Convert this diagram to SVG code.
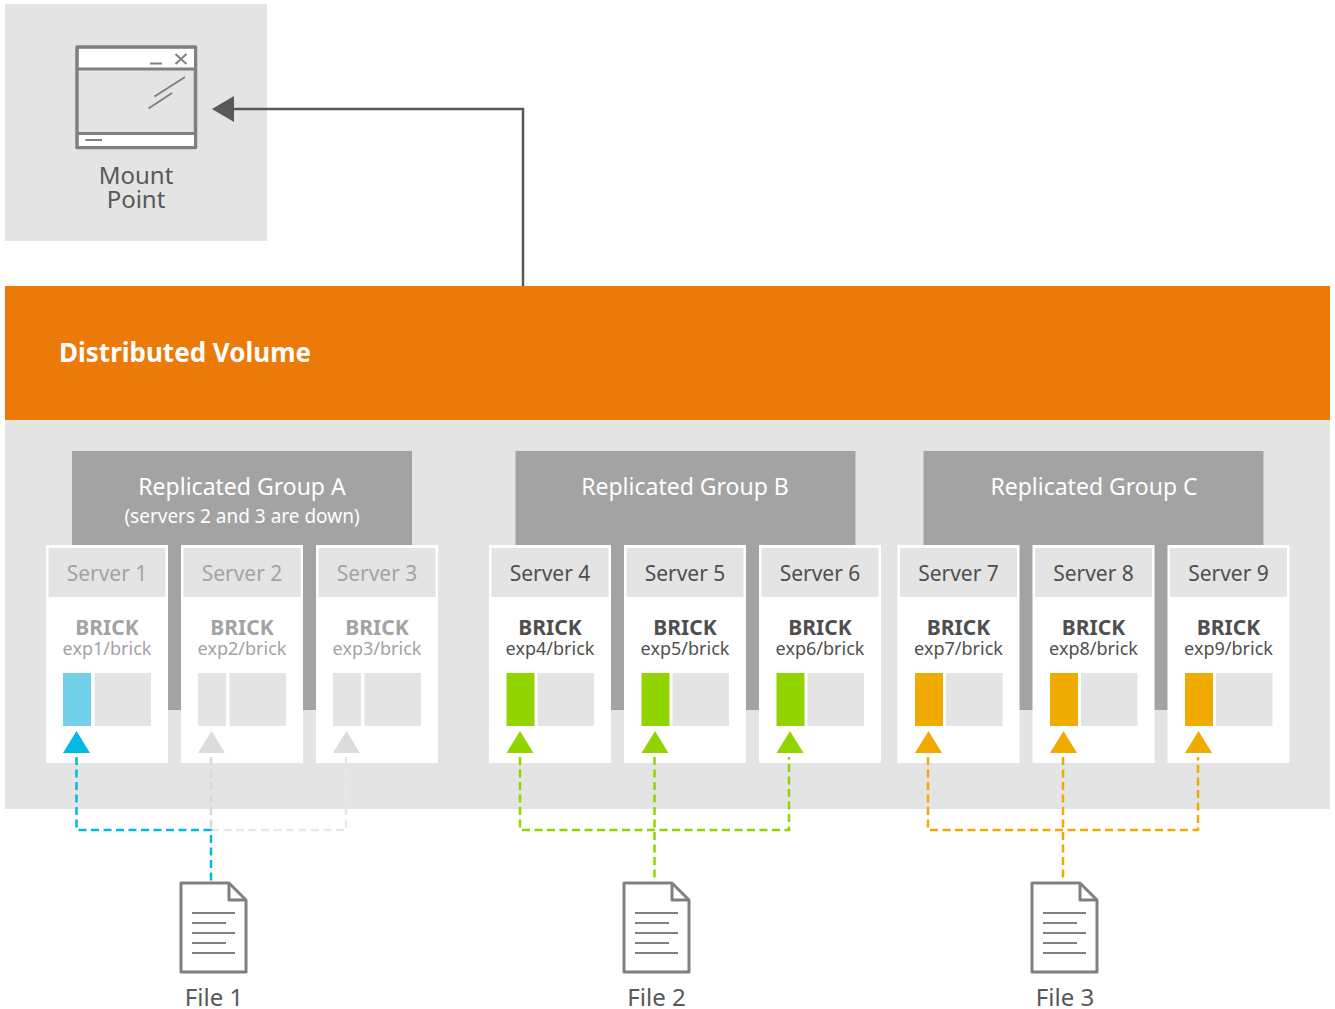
<svg xmlns="http://www.w3.org/2000/svg" xmlns:xlink="http://www.w3.org/1999/xlink" width="1335" height="1009" viewBox="0 0 1335 1009">
<style>
text{font-family:"Noto Sans","Liberation Sans",sans-serif;text-anchor:middle}
.bg{fill:#e4e4e4}
.grp{fill:#a3a3a3}
.gt{fill:#fff;font-size:23px}
.gs{fill:#fff;font-size:19px}
.srv{fill:#fff;stroke:#fff;stroke-width:0}
.hd{fill:#e4e4e4}
.st{fill:#4f4f4f;font-size:21px}
.bt{fill:#4f4f4f;font-size:21px;font-weight:700}
.bp{fill:#4f4f4f;font-size:18px}
.off .srv{fill:#f2f2f2}
.off .st,.off .bt,.off .bp{fill:#a3a3a3}
.dash{fill:none;stroke-width:2.5;stroke-dasharray:8 4.5}
.icon{fill:none;stroke:#808080;stroke-width:3;stroke-linejoin:round}
.thin{fill:none;stroke:#808080;stroke-width:2}
.lbl{fill:#585858;font-size:24px}
</style>
<defs>
<g id="doc">
<path d="M181 883H229L246 900V972H181Z" fill="#fff" stroke="#808080" stroke-width="3" stroke-linejoin="round"/>
<path d="M229 883V900H246" class="icon"/>
<path d="M192 913H235M192 923H226M192 933H235M192 943H226M192 953H235" class="thin"/>
</g>
<g id="srvbox">
<rect class="srv" width="122" height="218"/>
<rect class="hd" x="2.500" y="3" width="117" height="49"/>
<rect class="hd" x="48.500" y="128" width="56.500" height="53"/>
</g>
</defs>

<rect x="5" y="286" width="1325" height="134" fill="#ec7a08"/>
<rect class="bg" x="5" y="420" width="1325" height="389"/>

<g id="mount-point">
<rect class="bg" x="5" y="4" width="262" height="237"/>
<rect x="77" y="47" width="118.500" height="100.500" fill="#e4e4e4" stroke="#808080" stroke-width="3.500" stroke-linejoin="round"/>
<rect x="79" y="49" width="115" height="19" fill="#fff"/>
<rect x="79" y="134" width="115" height="12" fill="#fff"/>
<path d="M77 69H195M77 133.500H195" class="icon"/>
<path d="M150 63.500H162M175.500 54L186.500 64M186.500 54L175.500 64M85.500 140H102M154.500 96.500L185 77M148.500 108.500L172 93" class="thin"/>
<text class="lbl" x="136" y="184">Mount</text>
<text class="lbl" x="136" y="208">Point</text>
</g>

<g id="distributed-volume">
<text x="185" y="362" fill="#fff" font-size="26" font-weight="700">Distributed Volume</text>
</g>

<g id="group-a">
<rect class="grp" x="72" y="451" width="340" height="259"/>
<text class="gt" x="242" y="495">Replicated Group A</text>
<text class="gs" x="242" y="523">(servers 2 and 3 are down)</text>
</g>
<g id="group-b">
<rect class="grp" x="515.500" y="451" width="340" height="259"/>
<text class="gt" x="685" y="495">Replicated Group B</text>
</g>
<g id="group-c">
<rect class="grp" x="923.500" y="451" width="340" height="259"/>
<text class="gt" x="1094" y="495">Replicated Group C</text>
</g>

<g id="server-1" class="off" transform="translate(46 545)">
<use xlink:href="#srvbox"/><rect x="17" y="128" width="28" height="53" fill="#72d1e8"/>
<path d="M30.500 186L44 208H17Z" fill="#00b9e4"/>
<text class="st" x="61" y="36">Server 1</text><text class="bt" x="61" y="90">BRICK</text><text class="bp" x="61" y="110">exp1/brick</text>
</g>
<g id="server-2" class="off" transform="translate(181 545)">
<use xlink:href="#srvbox"/><rect x="17" y="128" width="28" height="53" fill="#e4e4e4"/>
<path d="M30.500 186L44 208H17Z" fill="#dcdcdc"/>
<text class="st" x="61" y="36">Server 2</text><text class="bt" x="61" y="90">BRICK</text><text class="bp" x="61" y="110">exp2/brick</text>
</g>
<g id="server-3" class="off" transform="translate(316 545)">
<use xlink:href="#srvbox"/><rect x="17" y="128" width="28" height="53" fill="#e4e4e4"/>
<path d="M30.500 186L44 208H17Z" fill="#dcdcdc"/>
<text class="st" x="61" y="36">Server 3</text><text class="bt" x="61" y="90">BRICK</text><text class="bp" x="61" y="110">exp3/brick</text>
</g>
<g id="server-4" transform="translate(489 545)">
<use xlink:href="#srvbox"/><rect x="17.500" y="128" width="28" height="53" fill="#92d400"/>
<path d="M31 186L44.500 208H17.500Z" fill="#92d400"/>
<text class="st" x="61" y="36">Server 4</text><text class="bt" x="61" y="90">BRICK</text><text class="bp" x="61" y="110">exp4/brick</text>
</g>
<g id="server-5" transform="translate(624 545)">
<use xlink:href="#srvbox"/><rect x="17.500" y="128" width="28" height="53" fill="#92d400"/>
<path d="M31 186L44.500 208H17.500Z" fill="#92d400"/>
<text class="st" x="61" y="36">Server 5</text><text class="bt" x="61" y="90">BRICK</text><text class="bp" x="61" y="110">exp5/brick</text>
</g>
<g id="server-6" transform="translate(759 545)">
<use xlink:href="#srvbox"/><rect x="17.500" y="128" width="28" height="53" fill="#92d400"/>
<path d="M31 186L44.500 208H17.500Z" fill="#92d400"/>
<text class="st" x="61" y="36">Server 6</text><text class="bt" x="61" y="90">BRICK</text><text class="bp" x="61" y="110">exp6/brick</text>
</g>
<g id="server-7" transform="translate(897.500 545)">
<use xlink:href="#srvbox"/><rect x="17.500" y="128" width="28" height="53" fill="#f0ab00"/>
<path d="M31 186L44.500 208H17.500Z" fill="#f0ab00"/>
<text class="st" x="61" y="36">Server 7</text><text class="bt" x="61" y="90">BRICK</text><text class="bp" x="61" y="110">exp7/brick</text>
</g>
<g id="server-8" transform="translate(1032.500 545)">
<use xlink:href="#srvbox"/><rect x="17.500" y="128" width="28" height="53" fill="#f0ab00"/>
<path d="M31 186L44.500 208H17.500Z" fill="#f0ab00"/>
<text class="st" x="61" y="36">Server 8</text><text class="bt" x="61" y="90">BRICK</text><text class="bp" x="61" y="110">exp8/brick</text>
</g>
<g id="server-9" transform="translate(1167.500 545)">
<use xlink:href="#srvbox"/><rect x="17.500" y="128" width="28" height="53" fill="#f0ab00"/>
<path d="M31 186L44.500 208H17.500Z" fill="#f0ab00"/>
<text class="st" x="61" y="36">Server 9</text><text class="bt" x="61" y="90">BRICK</text><text class="bp" x="61" y="110">exp9/brick</text>
</g>

<g id="connectors">
<path d="M523 286V109H232" fill="none" stroke="#585858" stroke-width="2.500"/>
<path d="M212 109L234 96V122Z" fill="#585858"/>
<path class="dash" stroke="#d8d8d8" d="M211 757V830"/>
<path class="dash" stroke="#e8e8e8" d="M346 757V830H211"/>
<path class="dash" stroke="#00b9e4" d="M76.500 757V830H211V883"/>
<path class="dash" stroke="#92d400" d="M520 757V830H789V757M654.500 757V883"/>
<path class="dash" stroke="#f0ab00" d="M928 757V830H1198V757M1063 757V883"/>
</g>

<g id="file-1"><use xlink:href="#doc"/><text class="lbl" x="214" y="1006">File 1</text></g>
<g id="file-2"><use xlink:href="#doc" x="443"/><text class="lbl" x="656.500" y="1006">File 2</text></g>
<g id="file-3"><use xlink:href="#doc" x="851"/><text class="lbl" x="1065" y="1006">File 3</text></g>
</svg>
